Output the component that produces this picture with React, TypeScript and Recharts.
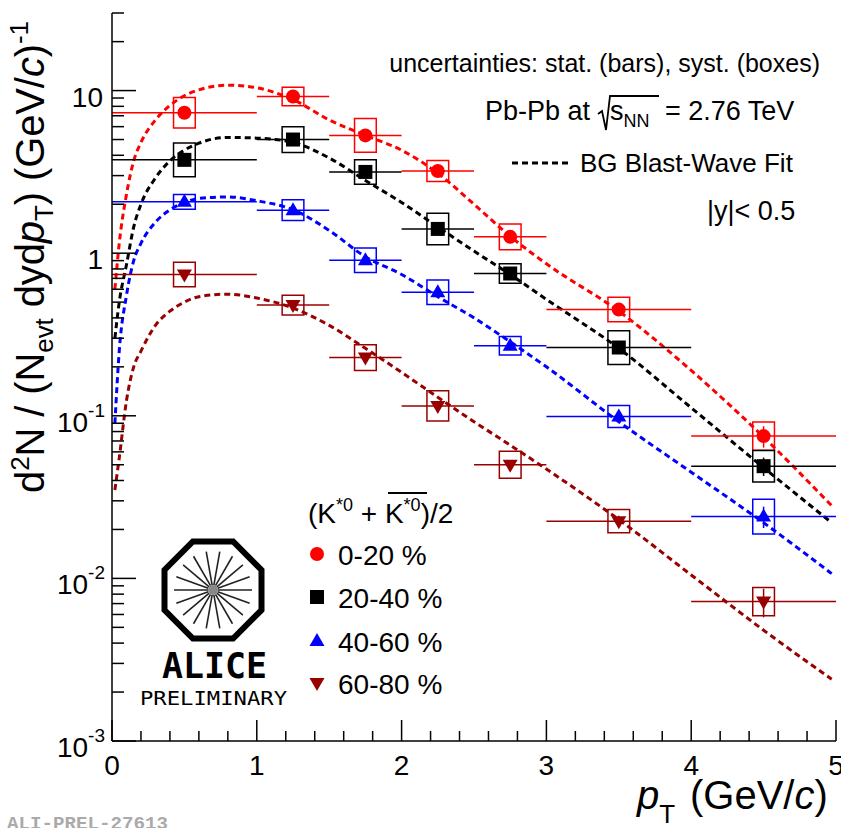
import React from "react";
import {
  ComposedChart,
  XAxis,
  YAxis,
  Line,
  Scatter,
  ErrorBar,
  ReferenceArea,
} from "recharts";

const FONT = "'Liberation Sans', Arial, Helvetica, sans-serif";
const W = 841;
const H = 828;

// pT bins (GeV/c)
const ptCenters = [0.5, 1.25, 1.75, 2.25, 2.75, 3.5, 4.5];
const ptHalfBins = [0.5, 0.25, 0.25, 0.25, 0.25, 0.5, 0.5];
const sysHalfWidth = 0.075;

// yields
const yield0020 = [7.3, 9.2, 5.3, 3.2, 1.26, 0.45, 0.075];
const yield2040 = [3.75, 5.0, 3.16, 1.41, 0.75, 0.263, 0.049];
const yield4060 = [2.07, 1.84, 0.905, 0.575, 0.27, 0.099, 0.024];
const yield6080 = [0.74, 0.48, 0.228, 0.115, 0.05, 0.0225, 0.0072];

// relative syst. (box) and stat. (bar) uncertainties
const sys0020 = [0.24, 0.14, 0.27, 0.16, 0.2, 0.19, 0.22];
const sys2040 = [0.27, 0.2, 0.19, 0.25, 0.15, 0.27, 0.25];
const sys4060 = [0.11, 0.16, 0.19, 0.19, 0.14, 0.17, 0.28];
const sys6080 = [0.19, 0.15, 0.2, 0.24, 0.21, 0.18, 0.22];

const stat0020 = [0.02, 0.02, 0.03, 0.03, 0.04, 0.06, 0.15];
const stat2040 = [0.02, 0.02, 0.03, 0.03, 0.04, 0.06, 0.13];
const stat4060 = [0.02, 0.02, 0.03, 0.03, 0.04, 0.06, 0.15];
const stat6080 = [0.03, 0.03, 0.04, 0.05, 0.06, 0.08, 0.2];

// BG blast-wave fit curves, read at these pT values
const fitPt = [
  0.02, 0.05, 0.1, 0.15, 0.2, 0.3, 0.4, 0.5, 0.6, 0.8, 1.0, 1.25, 1.5, 1.75,
  2.0, 2.25, 2.5, 2.75, 3.0, 3.5, 4.0, 4.5, 4.97,
];
const fit0020 = [
  0.6, 1.15, 2.3, 3.7, 4.8, 6.6, 8.1, 9.3, 10.1, 10.8, 10.4, 8.8, 6.6, 5.3,
  4.3, 3.1, 2.0, 1.27, 0.86, 0.44, 0.19, 0.074, 0.028,
];
const fit2040 = [
  0.3, 0.5, 0.85, 1.45, 2.0, 2.9, 3.7, 4.3, 4.75, 5.15, 5.1, 4.8, 3.85, 2.8,
  2.05, 1.45, 1.03, 0.74, 0.52, 0.26, 0.112, 0.048, 0.022,
];
const fit4060 = [
  0.09, 0.25, 0.55, 0.9, 1.15, 1.55, 1.85, 2.05, 2.17, 2.22, 2.1, 1.85, 1.38,
  0.95, 0.74, 0.54, 0.4, 0.285, 0.2, 0.092, 0.045, 0.022, 0.0107,
];
const fit6080 = [
  0.035, 0.055, 0.124, 0.2, 0.25, 0.36, 0.44, 0.5, 0.54, 0.56, 0.53, 0.46,
  0.36, 0.26, 0.185, 0.13, 0.092, 0.066, 0.047, 0.023, 0.0105, 0.0048, 0.0024,
];

const centralityLabels = ["0-20 %", "20-40 %", "40-60 %", "60-80 %"];
const seriesColors = ["#ff0000", "#000000", "#0000ff", "#990000"];
const seriesMarkers = ["circle", "square", "triangle", "triangleDown"];

// axis ticks
const xTicks = Array.from({ length: 26 }, (_, i) => Math.round(i * 2) / 10);
const decades = [0.001, 0.01, 0.1, 1, 10];
const yTicks = decades
  .flatMap((d) => [1, 2, 3, 4, 5, 6, 7, 8, 9].map((m) => +(d * m).toPrecision(3)))
  .filter((v) => v <= 30);
const yTickLabels: Record<string, [string, string]> = {
  "0.001": ["10", "-3"],
  "0.01": ["10", "-2"],
  "0.1": ["10", "-1"],
  "1": ["1", ""],
  "10": ["10", ""],
};

const series = [yield0020, yield2040, yield4060, yield6080].map((ys, k) => {
  const sys = [sys0020, sys2040, sys4060, sys6080][k];
  const stat = [stat0020, stat2040, stat4060, stat6080][k];
  const fit = [fit0020, fit2040, fit4060, fit6080][k];
  return {
    name: centralityLabels[k],
    color: seriesColors[k],
    marker: seriesMarkers[k],
    points: ptCenters.map((x, i) => ({
      x,
      y: ys[i],
      ex: ptHalfBins[i],
      ey: [ys[i] * stat[i], ys[i] * stat[i]],
    })),
    boxes: ptCenters.map((x, i) => ({
      x1: x - sysHalfWidth,
      x2: x + sysHalfWidth,
      y1: ys[i] / (1 + sys[i]),
      y2: ys[i] * (1 + sys[i]),
    })),
    fit: fitPt.map((x, i) => ({ x, y: fit[i] })),
  };
});

function MarkerShape({ kind, cx, cy, color }: any) {
  if (cx == null || cy == null) return null;
  if (kind === "circle") return <circle cx={cx} cy={cy} r={7} fill={color} />;
  if (kind === "square")
    return <rect x={cx - 7} y={cy - 7} width={14} height={14} fill={color} />;
  if (kind === "triangle")
    return (
      <polygon
        points={`${cx},${cy - 8} ${cx - 7.5},${cy + 5} ${cx + 7.5},${cy + 5}`}
        fill={color}
      />
    );
  return (
    <polygon
      points={`${cx},${cy + 8} ${cx - 7.5},${cy - 5} ${cx + 7.5},${cy - 5}`}
      fill={color}
    />
  );
}

const isMajorX = (v: number) => Math.abs(v - Math.round(v)) < 1e-6;
const isDecade = (v: number) => yTickLabels[String(v)] !== undefined;

const BottomTick = (props: any) => {
  const { x, y, payload } = props;
  const v = payload.value;
  const major = isMajorX(v);
  return (
    <g>
      <line x1={x} y1={y} x2={x} y2={y - (major ? 21 : 10)} stroke="#000" strokeWidth={1.5} />
      {major && (
        <text x={x} y={y + 34} textAnchor="middle" fontSize={28} fontFamily={FONT} fill="#000">
          {v}
        </text>
      )}
    </g>
  );
};

const TopTick = (props: any) => {
  const { x, y, payload } = props;
  const major = isMajorX(payload.value);
  return <line x1={x} y1={y} x2={x} y2={y + (major ? 21 : 10)} stroke="#000" strokeWidth={1.5} />;
};

const LeftTick = (props: any) => {
  const { x, y, payload } = props;
  const v = payload.value;
  const lab = yTickLabels[String(v)];
  return (
    <g>
      <line x1={x} y1={y} x2={x + (lab ? 24 : 12)} y2={y} stroke="#000" strokeWidth={1.5} />
      {lab && (
        <text
          x={lab[1] ? 105 : 103}
          y={y + 16}
          textAnchor="end"
          fontSize={28}
          fontFamily={FONT}
          fill="#000"
        >
          {lab[0]}
          {lab[1] && (
            <tspan fontSize={19} dy={-15}>
              {lab[1]}
            </tspan>
          )}
        </text>
      )}
    </g>
  );
};

const RightTick = (props: any) => {
  const { x, y, payload } = props;
  const major = isDecade(payload.value);
  return <line x1={x} y1={y} x2={x - (major ? 24 : 12)} y2={y} stroke="#000" strokeWidth={1.5} />;
};

function AliceLogo() {
  const cx = 213;
  const cy = 590;
  const r = 52.5;
  const oct = Array.from({ length: 8 }, (_, i) => {
    const a = ((22.5 + i * 45) * Math.PI) / 180;
    return `${cx + r * Math.cos(a)},${cy + r * Math.sin(a)}`;
  }).join(" ");
  const spokes = Array.from({ length: 18 }, (_, i) => (i * 20 * Math.PI) / 180);
  return (
    <g>
      <polygon points={oct} fill="none" stroke="#000" strokeWidth={6} />
      {spokes.map((a, i) => (
        <line
          key={i}
          x1={cx + 5 * Math.cos(a)}
          y1={cy + 5 * Math.sin(a)}
          x2={cx + 39 * Math.cos(a)}
          y2={cy + 39 * Math.sin(a)}
          stroke="#222"
          strokeWidth={1.6}
        />
      ))}
      <circle cx={cx} cy={cy} r={5} fill="#888" />
      <text
        x={162}
        y={678}
        fontSize={36}
        fontWeight="bold"
        fontFamily="'DejaVu Sans Mono', 'Liberation Mono', monospace"
        textLength={105}
        lengthAdjust="spacingAndGlyphs"
        fill="#000"
      >
        ALICE
      </text>
      <text
        x={140}
        y={705}
        fontSize={20}
        fontFamily="'DejaVu Sans Mono', 'Liberation Mono', monospace"
        textLength={147}
        lengthAdjust="spacingAndGlyphs"
        fill="#000"
      >
        PRELIMINARY
      </text>
    </g>
  );
}

function Overlay() {
  const legendY = [554, 597, 641, 683];
  return (
    <svg
      width={W}
      height={H}
      style={{ position: "absolute", left: 0, top: 0, pointerEvents: "none" }}
    >
      {/* y title */}
      <text
        transform="rotate(-90)"
        x={-257}
        y={44}
        textAnchor="middle"
        fontSize={40}
        fontFamily={FONT}
        textLength={472}
        lengthAdjust="spacing"
        fill="#000"
      >
        d<tspan fontSize={26} dy={-15}>2</tspan>
        <tspan dy={15}>N / (N</tspan>
        <tspan fontSize={26} dy={9}>evt</tspan>
        <tspan dy={-9}> dyd</tspan>
        <tspan fontStyle="italic">p</tspan>
        <tspan fontSize={26} dy={9}>T</tspan>
        <tspan dy={-9}>)  (GeV/</tspan>
        <tspan fontStyle="italic">c</tspan>
        <tspan>)</tspan>
        <tspan fontSize={26} dy={-16}>-1</tspan>
      </text>

      {/* x title */}
      <text x={637} y={809} fontSize={40} fontFamily={FONT} fill="#000">
        <tspan fontStyle="italic">p</tspan>
        <tspan fontSize={26} dy={14}>T</tspan>
        <tspan x={690} dy={-14}>(GeV/</tspan>
        <tspan fontStyle="italic">c</tspan>
        <tspan>)</tspan>
      </text>

      {/* info texts */}
      <text x={820} y={72} textAnchor="end" fontSize={25} fontFamily={FONT} fill="#000">
        uncertainties: stat. (bars), syst. (boxes)
      </text>
      <text x={485} y={120} fontSize={27} fontFamily={FONT} fill="#000">
        Pb-Pb at
      </text>
      <path d="M598,114 L602,111 L606,130 L610,96 L659,96" fill="none" stroke="#000" strokeWidth={1.8} />
      <text x={610} y={120} fontSize={27} fontFamily={FONT} fill="#000">
        s<tspan fontSize={18} dy={7}>NN</tspan>
      </text>
      <text x={665} y={120} fontSize={27} fontFamily={FONT} fill="#000">
        = 2.76 TeV
      </text>
      <line x1={512} y1={163} x2={570} y2={163} stroke="#000" strokeWidth={3} strokeDasharray="6 4" />
      <text x={580} y={172} fontSize={26} fontFamily={FONT} fill="#000">
        BG Blast-Wave Fit
      </text>
      <text x={707} y={220} fontSize={27} fontFamily={FONT} fill="#000">
        |y|&lt; 0.5
      </text>

      {/* legend */}
      <text x={308} y={523} fontSize={28} fontFamily={FONT} fill="#000">
        (K<tspan fontSize={18} dy={-12}>*0</tspan>
        <tspan dy={12}> + K</tspan>
        <tspan fontSize={18} dy={-12}>*0</tspan>
        <tspan dy={12}>)/2</tspan>
      </text>
      <line x1={388} y1={493} x2={427} y2={493} stroke="#000" strokeWidth={2} />
      {series.map((s, k) => (
        <g key={s.name}>
          <MarkerShape kind={s.marker} cx={317} cy={legendY[k]} color={s.color} />
          <text x={338} y={legendY[k] + 11} fontSize={28} fontFamily={FONT} fill="#000">
            {s.name}
          </text>
        </g>
      ))}

      <AliceLogo />

      <text
        x={7}
        y={829}
        fontSize={19}
        fontWeight="bold"
        fontFamily="'Liberation Mono', 'DejaVu Sans Mono', monospace"
        textLength={161}
        lengthAdjust="spacingAndGlyphs"
        fill="#aaaaaa"
      >
        ALI-PREL-27613
      </text>
    </svg>
  );
}

export default function App() {
  return (
    <div
      style={{
        position: "absolute",
        left: 0,
        top: 0,
        width: W,
        height: H,
        background: "#fff",
        overflow: "hidden",
      }}
    >
      <ComposedChart width={W} height={H} margin={{ top: 13, right: 5, bottom: 0, left: 0 }}>
        <XAxis
          xAxisId="b"
          dataKey="x"
          type="number"
          domain={[0, 5]}
          ticks={xTicks}
          interval={0}
          allowDataOverflow
          height={87}
          tickSize={0}
          tickMargin={0}
          tickLine={false}
          tick={<BottomTick />}
          axisLine={{ stroke: "#000", strokeWidth: 1.5 }}
        />
        <XAxis
          xAxisId="t"
          orientation="top"
          dataKey="x"
          type="number"
          domain={[0, 5]}
          ticks={xTicks}
          interval={0}
          allowDataOverflow
          height={0}
          tickSize={0}
          tickMargin={0}
          tickLine={false}
          tick={<TopTick />}
          axisLine={{ stroke: "#000", strokeWidth: 1.5 }}
        />
        <YAxis
          yAxisId="l"
          dataKey="y"
          type="number"
          scale="log"
          domain={[0.001, 30]}
          ticks={yTicks}
          interval={0}
          allowDataOverflow
          width={112}
          tickSize={0}
          tickMargin={0}
          tickLine={false}
          tick={<LeftTick />}
          axisLine={{ stroke: "#000", strokeWidth: 1.5 }}
        />
        <YAxis
          yAxisId="r"
          orientation="right"
          dataKey="y"
          type="number"
          scale="log"
          domain={[0.001, 30]}
          ticks={yTicks}
          interval={0}
          allowDataOverflow
          width={0}
          tickSize={0}
          tickMargin={0}
          tickLine={false}
          tick={<RightTick />}
          axisLine={{ stroke: "#000", strokeWidth: 1.5 }}
        />

        {series.flatMap((s) =>
          s.boxes.map((b, i) => (
            <ReferenceArea
              key={`${s.name}-box-${i}`}
              xAxisId="b"
              yAxisId="l"
              x1={b.x1}
              x2={b.x2}
              y1={b.y1}
              y2={b.y2}
              fill="none"
              fillOpacity={0}
              stroke={s.color}
              strokeWidth={1.5}
              ifOverflow="visible"
            />
          ))
        )}

        {series.map((s) => (
          <Line
            key={`${s.name}-fit`}
            xAxisId="b"
            yAxisId="l"
            data={s.fit}
            dataKey="y"
            type="monotone"
            stroke={s.color}
            strokeWidth={3}
            strokeDasharray="6 4"
            dot={false}
            activeDot={false}
            isAnimationActive={false}
          />
        ))}

        {series.map((s) => (
          <Scatter
            key={`${s.name}-pts`}
            xAxisId="b"
            yAxisId="l"
            data={s.points}
            dataKey="y"
            isAnimationActive={false}
            shape={(p: any) => (
              <MarkerShape kind={s.marker} cx={p.cx} cy={p.cy} color={s.color} />
            )}
          >
            <ErrorBar dataKey="ex" direction="x" width={0} stroke={s.color} strokeWidth={1.5} />
            <ErrorBar dataKey="ey" direction="y" width={0} stroke={s.color} strokeWidth={1.5} />
          </Scatter>
        ))}
      </ComposedChart>
      <Overlay />
    </div>
  );
}
